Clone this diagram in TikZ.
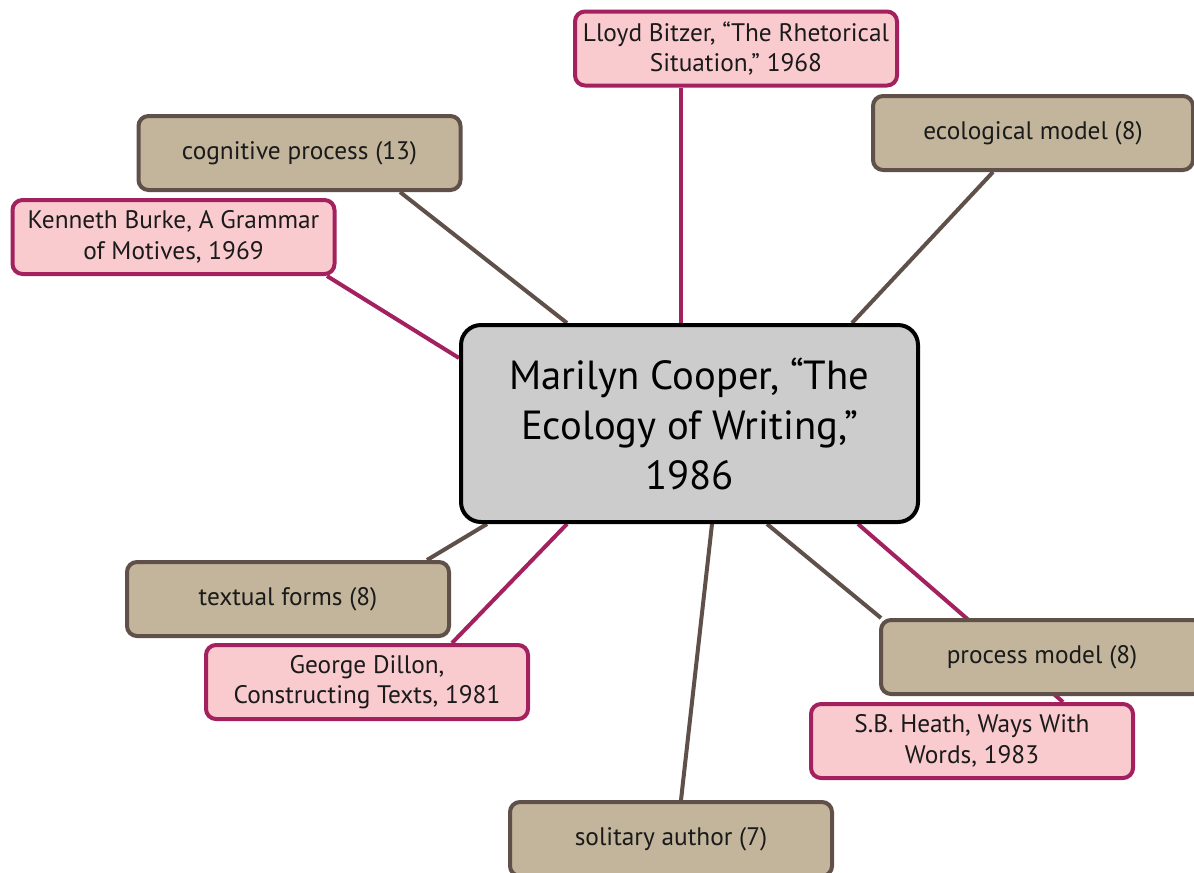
\documentclass[tikz,border=0pt]{standalone}
\usepackage{fontspec}
\setmainfont{PT Sans}
\usetikzlibrary{calc}
\pgfdeclarelayer{background}
\pgfsetlayers{background,main}
\definecolor{tanfill}{HTML}{C2B59B}
\definecolor{tanline}{HTML}{5F5049}
\definecolor{pinkfill}{HTML}{F9CBCF}
\definecolor{pinkline}{HTML}{A3215F}
\definecolor{centerfill}{HTML}{CCCCCC}
\definecolor{txt}{HTML}{1A1A1A}
\tikzset{
  basebox/.style={rectangle, rounded corners=7.5pt, line width=3pt, minimum width=241.5pt, minimum height=55.5pt, align=center, inner sep=0pt, text=txt, font=\fontsize{19}{23}\selectfont},
  tanbox/.style={basebox, draw=tanline, fill=tanfill},
  pinkbox/.style={basebox, draw=pinkline, fill=pinkfill},
  centerbox/.style={rectangle, rounded corners=15pt, line width=3pt, draw=black, fill=centerfill, minimum width=342.75pt, minimum height=147.75pt, align=center, inner sep=0pt, text=black, font=\fontsize{30.5}{37.5}\selectfont},
  tline/.style={draw=tanline, line width=3pt},
  mline/.style={draw=pinkline, line width=3pt}
}
\begin{document}
\begin{tikzpicture}[x=0.75pt,y=-0.75pt]
\useasboundingbox (0,0) rectangle (1194,872);
\clip (0,0) rectangle (1194,872);
\begin{pgfonlayer}{background}
\fill[white] (0,0) rectangle (1194,872);
\end{pgfonlayer}
\path
  (736,48.5) node[pinkbox] (bitzer) {Lloyd Bitzer, “The Rhetorical\\Situation,” 1968}
  (1033,133) node[tanbox, minimum width=240pt] (eco) {ecological model (8)}
  (299.5,153) node[tanbox] (cog) {cognitive process (13)}
  (173.5,237) node[pinkbox] (burke) {Kenneth Burke, A Grammar\\of Motives, 1969}
  (689.5,423.5) node[centerbox] (center) {Marilyn Cooper, “The\\Ecology of Writing,”\\1986}
  (288,599) node[tanbox] (textual) {textual forms (8)}
  (367,682) node[pinkbox] (dillon) {George Dillon,\\Constructing Texts, 1981}
  (1042,657) node[tanbox] (process) {process model (8)}
  (972,741) node[pinkbox] (heath) {S.B. Heath, Ways With\\Words, 1983}
  (671,839) node[tanbox] (solitary) {solitary author (7)};
\begin{pgfonlayer}{background}
\draw[mline] ($(bitzer.south)+(-55,0)$) -- ($(center.north)+(-8.5,0)$);
\draw[tline] ($(eco.south)+(-40,0)$) -- ($(center.north)+(162.5,0)$);
\draw[tline] ($(cog.south)+(100.5,0)$) -- ($(center.north)+(-122.5,0)$);
\draw[mline] ($(burke.south)+(153.5,0)$) -- ($(center.west)+(0,-65.5)$);
\draw[tline] ($(textual.north)+(139,0)$) -- ($(center.south)+(-202.5,0)$);
\draw[mline] ($(dillon.north)+(85,0)$) -- ($(center.south)+(-122.5,0)$);
\draw[tline] ($(solitary.north)+(10,0)$) -- ($(center.south)+(22.5,0)$);
\draw[tline] ($(process.north west)+(2,0)$) -- ($(center.south)+(77.5,0)$);
\draw[mline] ($(heath.north)+(91,0)$) -- ($(center.south)+(168.5,0)$);
\end{pgfonlayer}
\end{tikzpicture}
\end{document}
